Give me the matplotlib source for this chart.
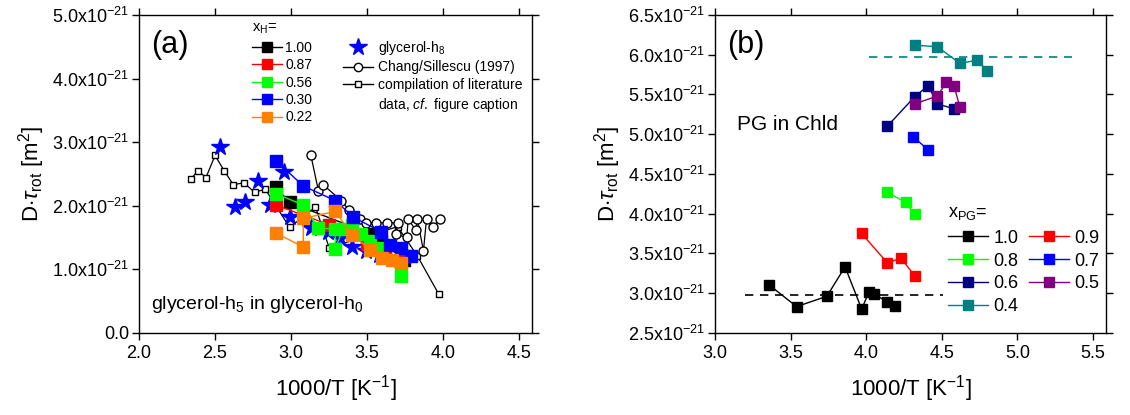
import matplotlib
matplotlib.use('Agg')
import matplotlib.pyplot as plt
from matplotlib.lines import Line2D
from matplotlib.ticker import FuncFormatter, MultipleLocator

plt.rcParams['font.family'] = 'Liberation Sans'
plt.rcParams['mathtext.fontset'] = 'custom'
plt.rcParams['mathtext.rm'] = 'Liberation Sans'
plt.rcParams['mathtext.it'] = 'Liberation Sans:italic'

# ---- panel (a): glycerol-h5 in glycerol-h0, values in units of 1e-21 m^2
xh_labels = ['1.00', '0.87', '0.56', '0.30', '0.22']
xh_colors = ['black', '#ff0000', '#00ff00', '#0000ff', '#ff8000']

xh100_x = [2.90, 2.99, 3.52, 3.59, 3.74]
xh100_y = [2.29, 2.05, 1.56, 1.45, 1.15]
xh087_x = [2.90, 3.25, 3.50, 3.62, 3.75]
xh087_y = [2.01, 1.70, 1.40, 1.24, 1.21]
xh056_x = [2.90, 3.08, 3.18, 3.29, 3.29, 3.34, 3.40, 3.46, 3.52, 3.59, 3.72]
xh056_y = [2.19, 2.01, 1.65, 1.63, 1.32, 1.63, 1.69, 1.55, 1.44, 1.33, 0.90]
xh030_x = [2.90, 3.08, 3.29, 3.41, 3.59, 3.65, 3.72, 3.79]
xh030_y = [2.71, 2.31, 2.08, 1.82, 1.59, 1.38, 1.33, 1.21]
xh022_x = [2.90, 3.08, 3.08, 3.29, 3.40, 3.52, 3.60, 3.66, 3.72]
xh022_y = [1.57, 1.35, 1.80, 1.91, 1.54, 1.31, 1.18, 1.15, 1.10]

h8_x = [2.53, 2.63, 2.70, 2.78, 2.86, 2.95, 2.99, 3.13, 3.24, 3.32, 3.40, 3.49, 3.58]
h8_y = [2.93, 1.98, 2.06, 2.39, 2.01, 2.53, 1.82, 1.65, 1.59, 1.49, 1.35, 1.28, 1.22]

chang_x = [3.13, 3.18, 3.21, 3.33, 3.38, 3.45, 3.49, 3.56, 3.63, 3.70, 3.69, 3.76,
           3.77, 3.82, 3.83, 3.87, 3.89, 3.93, 3.98]
chang_y = [2.79, 2.23, 2.33, 2.08, 1.93, 1.79, 1.73, 1.73, 1.73, 1.73, 1.55, 1.50,
           1.79, 1.61, 1.79, 1.29, 1.79, 1.66, 1.79]

lit_x = [2.34, 2.39, 2.44, 2.50, 2.56, 2.62, 2.69, 2.76, 2.83, 2.99, 3.16, 3.25,
         3.70, 3.83, 3.97]
lit_y = [2.42, 2.55, 2.44, 2.79, 2.55, 2.33, 2.36, 2.21, 2.26, 1.66, 1.98, 1.34,
         1.67, 1.21, 0.61]

# ---- panel (b): PG in Chld
pg_labels = ['1.0', '0.9', '0.8', '0.7', '0.6', '0.5', '0.4']
pg_colors = ['black', '#ff0000', '#00ff00', '#0000ff', '#000080', '#800080', '#008080']

pg10_x = [3.36, 3.54, 3.74, 3.86, 3.97, 4.02, 4.05, 4.14, 4.19]
pg10_y = [3.10, 2.83, 2.96, 3.33, 2.80, 3.02, 2.99, 2.89, 2.84]
pg09_x = [3.97, 4.14, 4.23, 4.32]
pg09_y = [3.75, 3.38, 3.44, 3.22]
pg08_x = [4.14, 4.26, 4.32]
pg08_y = [4.27, 4.14, 3.99]
pg07_x = [4.31, 4.41]
pg07_y = [4.97, 4.80]
pg06_x = [4.14, 4.32, 4.41, 4.47, 4.58]
pg06_y = [5.10, 5.47, 5.61, 5.38, 5.32]
pg05_x = [4.32, 4.47, 4.53, 4.58, 4.62]
pg05_y = [5.38, 5.48, 5.65, 5.61, 5.34]
pg04_x = [4.32, 4.47, 4.62, 4.73, 4.80]
pg04_y = [6.12, 6.10, 5.89, 5.93, 5.80]

pg10_level = 2.97
pg10_span = [3.20, 4.51]
pg04_level = 5.97
pg04_span = [4.02, 5.36]


def sci_fmt(v, pos):
    if abs(v) < 1e-9:
        return '0.0'
    return '%.1fx10$^{-21}$' % v


def style_axes(ax):
    ax.tick_params(direction='out', length=5, width=1, labelsize=13,
                   top=True, right=True, pad=2)
    ax.tick_params(axis='x', pad=4)
    for s in ax.spines.values():
        s.set_linewidth(1.0)
    ax.yaxis.set_major_formatter(FuncFormatter(sci_fmt))
    ax.set_xlabel('1000/T [K$^{-1}$]', fontsize=16, labelpad=8)
    ax.set_ylabel(r'D$\cdot\tau_{\mathrm{rot}}$ [m$^{2}$]', fontsize=16, labelpad=4)


fig = plt.figure(figsize=(11.3, 4.15), dpi=100)
ax1 = fig.add_axes([0.123, 0.198, 0.348, 0.766])
ax2 = fig.add_axes([0.6327, 0.198, 0.346, 0.766])

# panel (a)
ax1.plot(lit_x, lit_y, '-s', color='black', mfc='white', mec='black',
         ms=5, lw=0.9, zorder=2)
ax1.plot(chang_x, chang_y, '-o', color='black', mfc='white', mec='black',
         ms=6.5, lw=0.9, zorder=2)
ax1.plot(h8_x, h8_y, '*', color='#0000ff', ms=13, mec='#0000ff', zorder=3)
series_a = [(xh100_x, xh100_y), (xh087_x, xh087_y), (xh056_x, xh056_y),
            (xh030_x, xh030_y), (xh022_x, xh022_y)]
for (xs, ys), c in zip(series_a, xh_colors):
    ax1.plot(xs, ys, '-s', color=c, ms=8, lw=1.0, zorder=4)

ax1.set_xlim(2.0, 4.585)
ax1.set_ylim(0.0, 5.0)
ax1.xaxis.set_major_locator(MultipleLocator(0.5))
ax1.yaxis.set_major_locator(MultipleLocator(1.0))
style_axes(ax1)
ax1.text(0.03, 0.905, '(a)', transform=ax1.transAxes, fontsize=22, va='center')
ax1.text(0.03, 0.09, 'glycerol-h$_5$ in glycerol-h$_0$', transform=ax1.transAxes,
         fontsize=14, va='center')

# x_H legend
ax1.text(0.287, 0.957, 'x$_\\mathrm{H}$=', transform=ax1.transAxes,
         fontsize=10.5, va='center')
h_xh = [Line2D([], [], color=c, marker='s', ms=7.5, lw=1.0) for c in xh_colors]
leg1 = ax1.legend(h_xh, xh_labels, loc='upper left',
                  bbox_to_anchor=(0.262, 0.95), frameon=False, fontsize=10,
                  handlelength=2.16, handletextpad=0.24,
                  labelspacing=0.25, borderaxespad=0.3)
ax1.add_artist(leg1)

h_other = [Line2D([], [], color='#0000ff', marker='*', ms=13, lw=0),
           Line2D([], [], color='black', marker='o', mfc='white', ms=6, lw=1.0),
           Line2D([], [], color='black', marker='s', mfc='white', ms=5, lw=1.0),
           Line2D([], [], lw=0)]
lab_other = ['glycerol-h$_8$', 'Chang/Sillescu (1997)', 'compilation of literature',
             'data, $cf.$ figure caption']
ax1.legend(h_other, lab_other, loc='upper left', bbox_to_anchor=(0.494, 0.956),
           frameon=False, fontsize=10, handlelength=2.16, handletextpad=0.36,
           labelspacing=0.27, borderaxespad=0.3)

# panel (b)
ax2.plot(pg10_span, [pg10_level, pg10_level], '--', color='black', lw=1.2, dashes=(5, 4))
ax2.plot(pg04_span, [pg04_level, pg04_level], '--', color='#008080', lw=1.2, dashes=(5, 4))
series_b = [(pg10_x, pg10_y), (pg09_x, pg09_y), (pg08_x, pg08_y), (pg07_x, pg07_y),
            (pg06_x, pg06_y), (pg05_x, pg05_y), (pg04_x, pg04_y)]
for (xs, ys), c in zip(series_b, pg_colors):
    ax2.plot(xs, ys, '-s', color=c, ms=7, lw=1.0, zorder=4)

ax2.set_xlim(3.0, 5.585)
ax2.set_ylim(2.5, 6.5)
ax2.xaxis.set_major_locator(MultipleLocator(0.5))
ax2.yaxis.set_major_locator(MultipleLocator(0.5))
style_axes(ax2)
ax2.text(0.03, 0.905, '(b)', transform=ax2.transAxes, fontsize=22, va='center')
ax2.text(0.056, 0.655, 'PG in Chld', transform=ax2.transAxes, fontsize=15, va='center')

# x_PG legend
ax2.text(0.596, 0.374, 'x$_\\mathrm{PG}$=', transform=ax2.transAxes,
         fontsize=13, va='center')
order = [0, 2, 4, 6, 1, 3, 5]
h_pg = [Line2D([], [], color=pg_colors[i], marker='s', ms=7.5, lw=1.0) for i in order]
l_pg = [pg_labels[i] for i in order]
ax2.legend(h_pg, l_pg, ncol=2, loc='lower left',
           bbox_to_anchor=(0.565, 0.016), frameon=False, fontsize=13,
           handlelength=2.2, handletextpad=0.28,
           labelspacing=0.32, columnspacing=0.6, borderaxespad=0.3)

fig.savefig('out.png', dpi=100)
